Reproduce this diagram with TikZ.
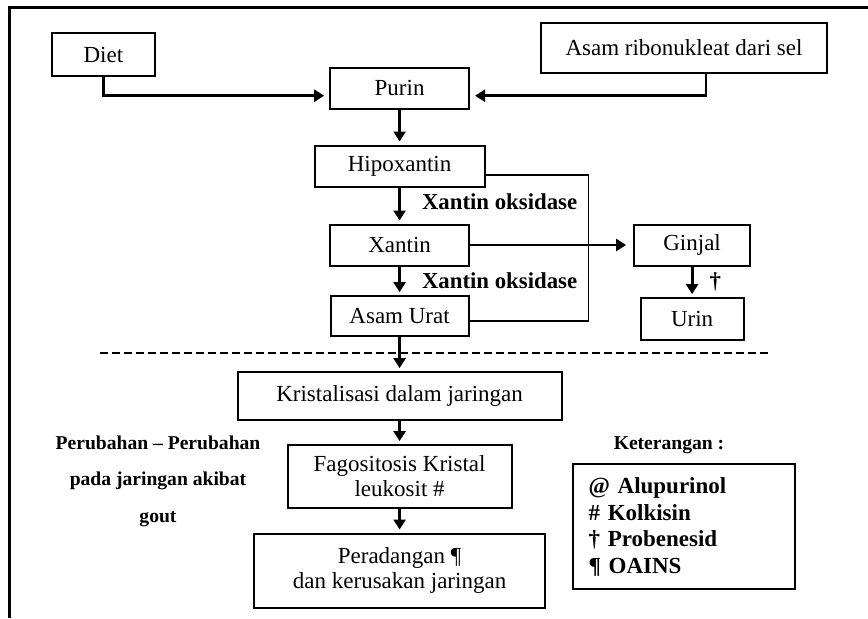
\documentclass[tikz,border=0pt]{standalone}
\usepackage{fontspec}
\setmainfont{Liberation Serif}
\usepackage{tikz}
\usetikzlibrary{arrows.meta, positioning}
\tikzset{
  blk/.style ={rectangle, draw, line width=1pt, outer sep=0pt, align=center, inner sep=2pt, font=\fontsize{11.5}{12.5}\selectfont},
  lgd/.style ={rectangle, draw, line width=1pt, outer sep=0pt, align=left, inner xsep=8pt, text width=95pt, minimum height=62.5pt, font=\bfseries\fontsize{11.5}{13.3}\selectfont},
  enz/.style ={font=\bfseries\fontsize{11.4}{13}\selectfont, inner sep=1pt},
  note/.style={align=center, font=\bfseries\fontsize{9.8}{18.2}\selectfont},
  fl/.style  ={-{Triangle[length=5pt, width=6pt]}, line width=1.4pt, shorten >=2pt},
  brk/.style ={line width=0.6pt},
  divl/.style={line width=1pt, dash pattern=on 4pt off 2pt},
  outer/.style={line width=1.5pt},
}
\begin{document}
\begin{tikzpicture}[x=1pt, y=-1pt, node distance=18pt]
  \useasboundingbox (0,0) rectangle (434,309);
  \draw[outer] (4.75,309) |- (434,3.75);
  % sumber purin
  \node[blk, minimum width=51.5pt, minimum height=21.5pt] (diet) at (51.7,27.3) {Diet};
  \node[blk, minimum width=69.5pt, minimum height=20.5pt] (purin) at (199.8,44.2) {Purin};
  \node[blk, minimum width=143pt, minimum height=25pt] (ribo) at (342,23.9) {Asam ribonukleat dari sel};
  % jalur metabolisme
  \node[blk, minimum width=85pt, minimum height=20.5pt, below=18.3pt of purin] (hipo) {Hipoxantin};
  \node[blk, minimum width=69.5pt, minimum height=20.5pt, below=19pt of hipo] (xan) {Xantin};
  \node[blk, minimum width=69pt, minimum height=20pt, below=15.3pt of xan] (urat) {Asam Urat};
  \node[blk, minimum width=58pt, minimum height=20.5pt, right=82.5pt of xan] (ginjal) {Ginjal};
  \node[blk, minimum width=51.5pt, minimum height=21pt, below=16.3pt of ginjal] (urin) {Urin};
  % perubahan jaringan
  \node[blk, minimum width=162pt, minimum height=24pt, below=18pt of urat] (kris) {Kristalisasi dalam jaringan};
  \node[blk, minimum width=112pt, minimum height=31.5pt, below=12.5pt of kris] (fago) {Fagositosis Kristal\\leukosit \#};
  \node[blk, minimum width=145.5pt, minimum height=37pt, below=12.7pt of fago] (perad) {Peradangan ¶\\dan kerusakan jaringan};
  \node[note] (ubah) at (79,240.5) {Perubahan -- Perubahan\\pada jaringan akibat\\gout};
  \node[note] (ket) at (334.5,222.4) {Keterangan :};
  \node[lgd] (obat) at (341.8,263.4) {@ Alupurinol\\\# Kolkisin\\† Probenesid\\¶ OAINS};
  \draw[fl, shorten >=3pt] (diet.south) |- (purin.186);
  \draw[fl, shorten >=3pt] ([xshift=11pt]ribo.south) |- (purin.354);
  \draw[fl] (purin) -- (hipo);
  \draw[fl] (hipo) -- node[enz, right=9.5pt, yshift=1.8pt]{Xantin oksidase} (xan);
  \draw[fl] (xan) -- node[enz, right=9.5pt]{Xantin oksidase} (urat);
  \draw[brk] (hipo.354) -- ++(52,0) |- (urat.356);
  \draw[fl, shorten >=4pt] (xan.east) -- (xan.east -| ginjal.west);
  \draw[fl] (ginjal) -- node[enz, right=7pt]{†} (ginjal |- urin.north);
  \draw[divl] (50,176.5) -- (385,176.5);
  \draw[fl] (urat) -- (kris);
  \draw[fl] (kris) -- (fago);
  \draw[fl] (fago) -- (perad);
\end{tikzpicture}
\end{document}
